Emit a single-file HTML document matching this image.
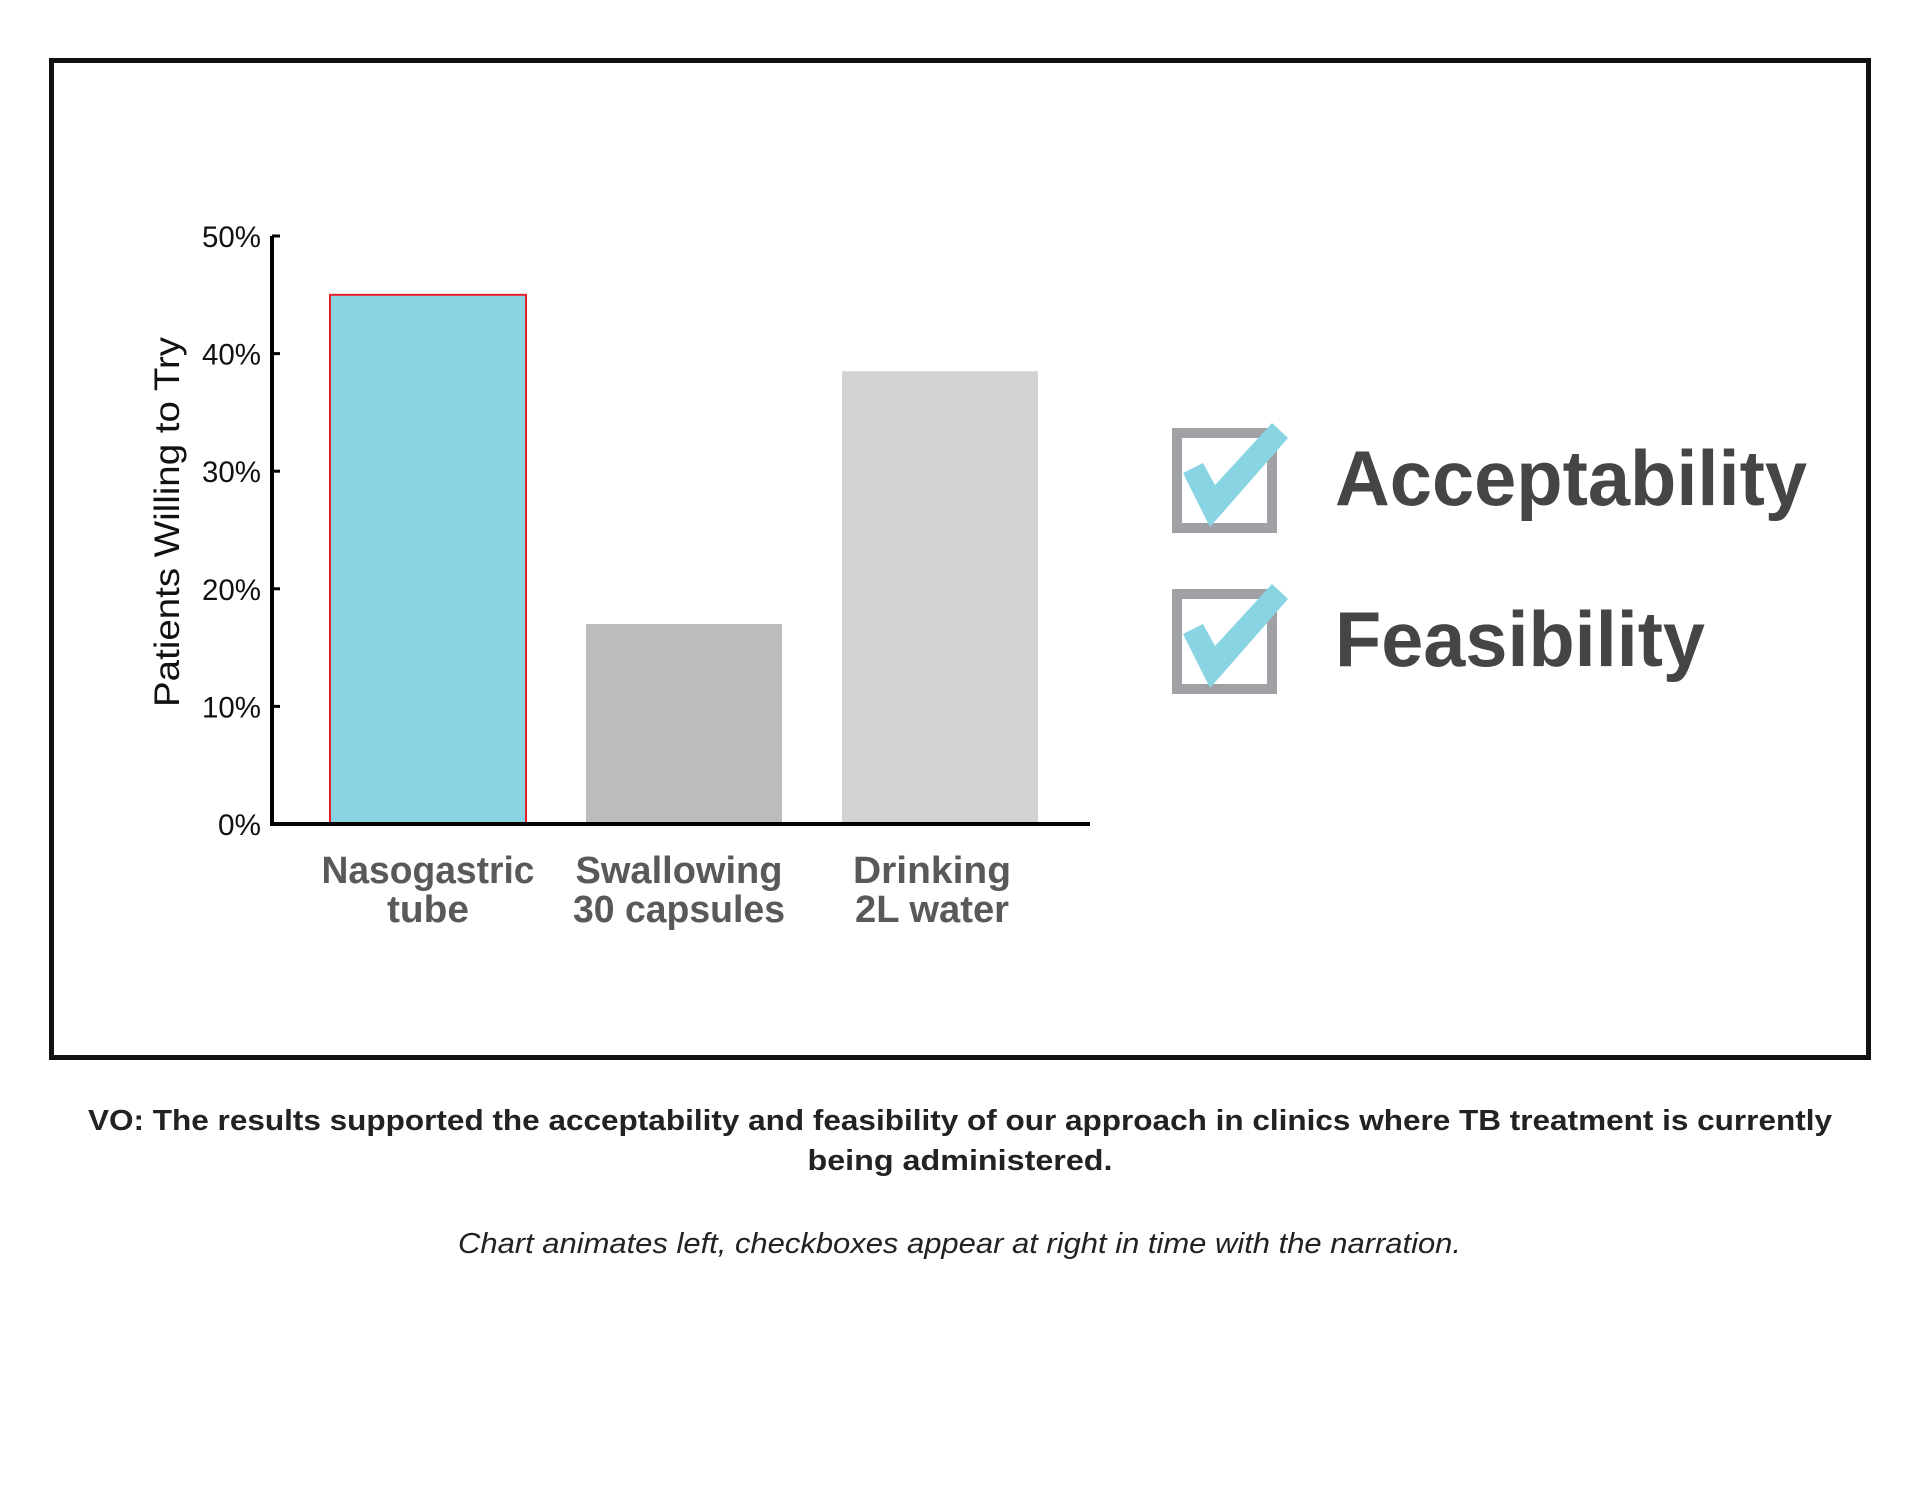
<!DOCTYPE html>
<html><head><meta charset="utf-8"><style>
html,body{margin:0;padding:0;background:#fff;width:1920px;height:1494px;overflow:hidden}
svg{display:block}
</style></head><body>
<svg id="chart" width="1920" height="1494" viewBox="0 0 1920 1494" xmlns="http://www.w3.org/2000/svg" font-family="Liberation Sans, sans-serif">
<rect x="51.5" y="60.5" width="1817" height="997" fill="none" stroke="#111" stroke-width="5"/>
<g id="plot"></g>
<g transform="translate(1172,428)">
<rect x="5" y="5" width="95" height="95" fill="none" stroke="#a0a1a4" stroke-width="10"/>
<polygon points="11,45 31,35 43,57 100,-5 116,10 38,99" fill="#88d4e2"/>
</g>
<text x="1335" y="505" font-size="78" font-weight="bold" fill="#454545" textLength="472" lengthAdjust="spacingAndGlyphs">Acceptability</text>
<g transform="translate(1172,589)">
<rect x="5" y="5" width="95" height="95" fill="none" stroke="#a0a1a4" stroke-width="10"/>
<polygon points="11,45 31,35 43,57 100,-5 116,10 38,99" fill="#88d4e2"/>
</g>
<text x="1335" y="666" font-size="78" font-weight="bold" fill="#454545" textLength="370" lengthAdjust="spacingAndGlyphs">Feasibility</text>
<text x="88" y="1130" font-size="29" font-weight="bold" fill="#222" textLength="1744" lengthAdjust="spacingAndGlyphs">VO: The results supported the acceptability and feasibility of our approach in clinics where TB treatment is currently</text>
<text x="960" y="1170" font-size="29" font-weight="bold" fill="#222" text-anchor="middle" textLength="305" lengthAdjust="spacingAndGlyphs">being administered.</text>
<text x="458" y="1253" font-size="29" font-style="italic" fill="#222" textLength="1003" lengthAdjust="spacingAndGlyphs">Chart animates left, checkboxes appear at right in time with the narration.</text>
</svg>
<script>
const categories = [["Nasogastric","tube"],["Swallowing","30  capsules"],["Drinking","2L water"]];
const values = [45, 17, 38.5];
const tickValues = [0,10,20,30,40,50];
const tickLabels = ["0%","10%","20%","30%","40%","50%"];
const NS="http://www.w3.org/2000/svg";
const g=document.getElementById('plot');
const x0=272,y0=824,yTop=236,vmax=50;
const yScale=v=>y0-(y0-yTop)*v/vmax;
const bandStart=330,bandStep=256,barW=196;
const xScale=i=>bandStart+i*bandStep;
const fills=["#88d4e2","#bbbcbe","#d1d2d4"];
const labelShift=[0,-5,-8];
const labelWidths=[[213,82],[207,212],[158,154]];
function mk(t,a){const e=document.createElementNS(NS,t);for(const k in a)e.setAttribute(k,a[k]);g.appendChild(e);return e;}
values.forEach((v,i)=>{
  const r=mk('rect',{x:xScale(i),y:yScale(v),width:barW,height:y0-yScale(v),fill:fills[i]});
  if(i===0){r.setAttribute('stroke','#e8202a');r.setAttribute('stroke-width','2');}
  
  
  categories[i].forEach((ln,j)=>{
    const t=mk('text',{x:xScale(i)+barW/2+labelShift[i],y:883+j*39,'font-size':38,'font-weight':'bold',fill:'#58595b','text-anchor':'middle'});
    t.setAttribute('textLength', labelWidths[i][j]);
    t.setAttribute('lengthAdjust','spacingAndGlyphs');
    t.textContent=ln;
    
    
  });
});
const ax=mk('path',{d:`M${x0} ${yTop} V${y0} H1090`,fill:'none',stroke:'#000','stroke-width':4});


tickValues.forEach((v,i)=>{
  const tk=mk('line',{x1:x0,x2:x0+8,y1:yScale(v),y2:yScale(v),stroke:'#000','stroke-width':3});
  
  
  const t=mk('text',{x:261,y:yScale(v)+11,'font-size':30,fill:'#111','text-anchor':'end',textLength:tickLabels[i].length===2?43:59,lengthAdjust:'spacingAndGlyphs'});
  t.textContent=tickLabels[i];
  
  
});
const yt=mk('text',{x:0,y:0,'font-size':35,fill:'#111','text-anchor':'middle',transform:'translate(179,522) rotate(-90)',textLength:370,lengthAdjust:'spacingAndGlyphs'});
yt.textContent='Patients Willing to Try';


</script>
</body></html>
